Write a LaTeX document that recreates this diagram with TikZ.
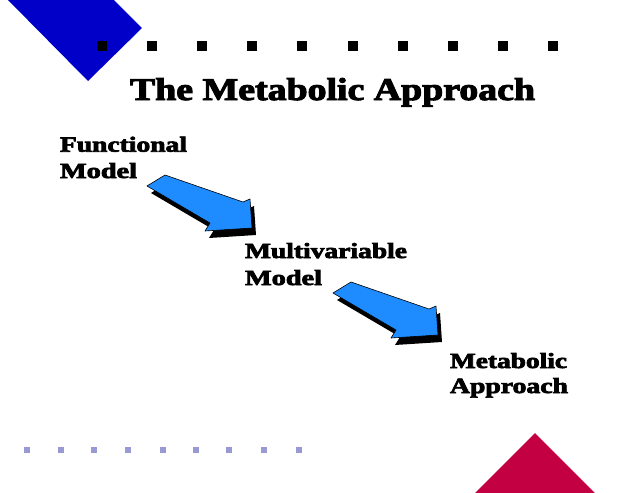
\documentclass[tikz,border=0pt]{standalone}
\usepackage{fontspec}
\newfontfamily\fatface[FakeBold=3]{Liberation Serif Bold}
\newcommand{\fitline}[3]{\resizebox{#1pt}{#2pt}{\fatface #3}}
\definecolor{cornerblue}{RGB}{0,0,200}
\definecolor{arrowblue}{RGB}{30,140,255}
\definecolor{lavender}{RGB}{153,153,214}
\definecolor{crimson}{RGB}{194,0,66}
\tikzset{
  lab/.style={anchor=base west, inner sep=0pt, outer sep=0pt},
  blockarrow/.pic={
    \fill[black] (4,7) -- (82,34) -- (89,31) -- (91,60) -- (44,63) -- (49,55) -- (-14,18) -- cycle;
    \filldraw[fill=arrowblue, draw=black, line width=0.6pt, line join=round]
      (0,0) -- (78,27) -- (85,24) -- (87,53) -- (40,56) -- (45,48) -- (-18,11) -- cycle;
  }
}
\begin{document}
\begin{tikzpicture}[x=1pt,y=-1pt]
\useasboundingbox (0,0) rectangle (638,493);
\fill[white] (0,0) rectangle (638,493);
% corner decorations
\fill[cornerblue] (8,0) -- (88,81) -- (142,28) -- (114,0) -- cycle;
\fill[crimson] (535,433) -- (597,495) -- (473,495) -- cycle;
\foreach \k in {0,...,9} \fill[black] (97+50.1*\k,41) rectangle ++(10,10);
\foreach \x in {27,61,94,128,163,196,229,264,299} \fill[lavender] (\x-3,447) rectangle ++(6,6);
% title
\node[lab] (title) at (130,100) {\fitline{405}{22}{The Metabolic Approach}};
% labels
\node[lab] (fun1) at (60,151.7) {\fitline{127}{15}{Functional}};
\node[lab] (fun2) at (60,178) {\fitline{77}{15}{Model}};
\node[lab] (mul1) at (245,258) {\fitline{162}{15}{Multivariable}};
\node[lab] (mul2) at (245,285) {\fitline{77}{15}{Model}};
\node[lab] (met1) at (450,368) {\fitline{117}{15}{Metabolic}};
\node[lab] (met2) at (450,393) {\fitline{118}{15}{Approach}};
% arrows
\pic at (165,175) {blockarrow};
\pic at (351,282) {blockarrow};
\end{tikzpicture}
\end{document}
